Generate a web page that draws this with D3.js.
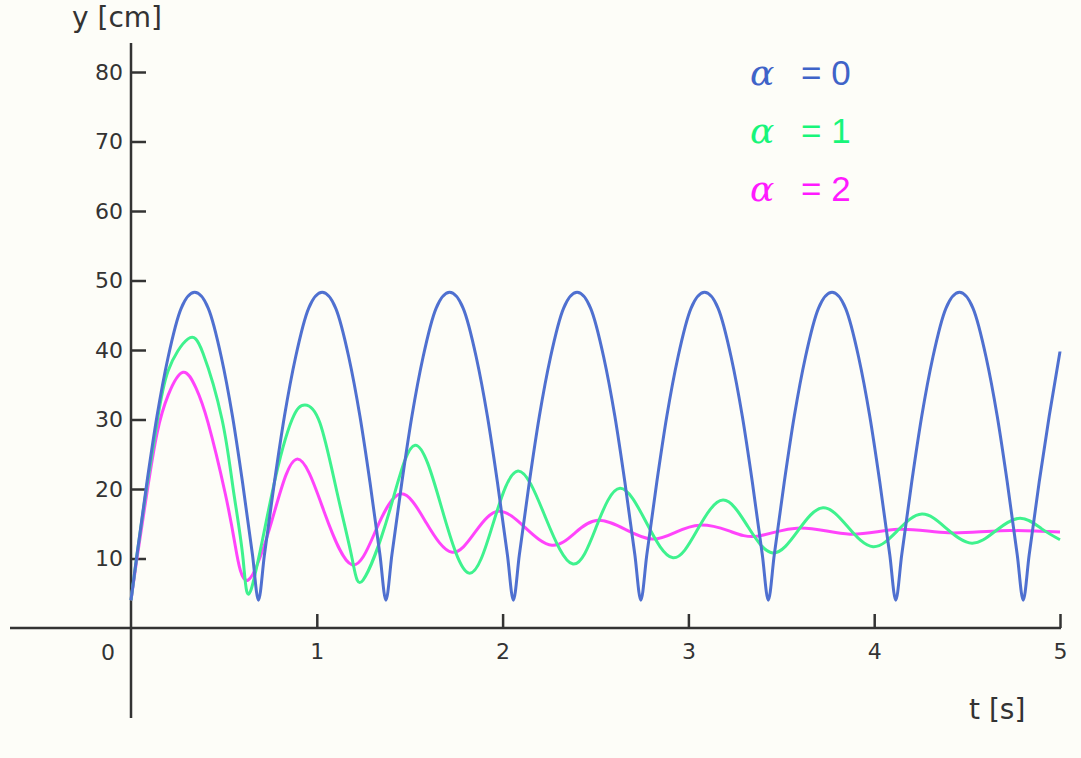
<!DOCTYPE html>
<html>
<head>
<meta charset="utf-8">
<script src="https://cdn.jsdelivr.net/npm/d3@7"></script>
<style>
  body { margin: 0; background: #fdfdf8; }
  svg { display: block; }
</style>
</head>
<body>
<script>
// values: [t in s, y in cm]
var alpha0 = [
  [0, 4], [0.032, 10.5], [0.086, 21], [0.14, 30.5], [0.2, 39], [0.27, 46], [0.343, 48.3],
  [0.416, 46], [0.486, 39], [0.546, 30.5], [0.6, 21], [0.654, 10.5],
  [0.686, 4], [0.718, 10.5], [0.772, 21], [0.826, 30.5], [0.886, 39], [0.956, 46], [1.029, 48.3],
  [1.102, 46], [1.172, 39], [1.232, 30.5], [1.286, 21], [1.34, 10.5],
  [1.372, 4], [1.404, 10.5], [1.458, 21], [1.512, 30.5], [1.572, 39], [1.642, 46], [1.715, 48.3],
  [1.788, 46], [1.858, 39], [1.918, 30.5], [1.972, 21], [2.026, 10.5],
  [2.058, 4], [2.09, 10.5], [2.144, 21], [2.198, 30.5], [2.258, 39], [2.328, 46], [2.401, 48.3],
  [2.474, 46], [2.544, 39], [2.604, 30.5], [2.658, 21], [2.712, 10.5],
  [2.744, 4], [2.776, 10.5], [2.83, 21], [2.884, 30.5], [2.944, 39], [3.014, 46], [3.087, 48.3],
  [3.16, 46], [3.23, 39], [3.29, 30.5], [3.344, 21], [3.398, 10.5],
  [3.43, 4], [3.462, 10.5], [3.516, 21], [3.57, 30.5], [3.63, 39], [3.7, 46], [3.773, 48.3],
  [3.846, 46], [3.916, 39], [3.976, 30.5], [4.03, 21], [4.084, 10.5],
  [4.116, 4], [4.148, 10.5], [4.202, 21], [4.256, 30.5], [4.316, 39], [4.386, 46], [4.459, 48.3],
  [4.532, 46], [4.602, 39], [4.662, 30.5], [4.716, 21], [4.77, 10.5],
  [4.802, 4], [4.834, 10.5], [4.888, 21], [4.942, 30.5], [5.0, 39.8]
];

var alpha1 = [
  [0, 4], [0.032, 10.5], [0.086, 20.5], [0.14, 29.5], [0.2, 37], [0.307, 41.6],
  [0.388, 39.5], [0.49, 30], [0.55, 20], [0.603, 10], [0.646, 5.5],
  [0.764, 20], [0.867, 30], [0.936, 32.1], [1.017, 29.5], [1.109, 19.5], [1.19, 10], [1.249, 6.9],
  [1.389, 16.6], [1.529, 26.3], [1.674, 17.1], [1.819, 7.9],
  [1.951, 15.2], [2.083, 22.6], [2.231, 15.9], [2.379, 9.2],
  [2.505, 14.6], [2.632, 20.1], [2.775, 15.1], [2.917, 10.1],
  [3.05, 14.2], [3.186, 18.4], [3.32, 14.6], [3.455, 10.8],
  [3.59, 14.0], [3.724, 17.3], [3.86, 14.5], [3.994, 11.7],
  [4.125, 14.0], [4.257, 16.4], [4.39, 14.3], [4.526, 12.2],
  [4.655, 14.0], [4.785, 15.8], [4.9, 14.3], [5.0, 12.7]
];

var alpha2 = [
  [0, 4], [0.032, 10], [0.086, 19.5], [0.14, 28], [0.2, 33.5], [0.28, 36.8],
  [0.35, 34.5], [0.415, 29.5], [0.506, 19.5], [0.56, 12], [0.63, 6.9],
  [0.76, 15.6], [0.893, 24.3], [1.04, 16.7], [1.19, 9.1],
  [1.32, 14.2], [1.453, 19.3], [1.59, 15.1], [1.728, 10.9],
  [1.855, 13.9], [1.98, 16.8], [2.123, 14.4], [2.266, 11.9],
  [2.39, 13.7], [2.513, 15.5], [2.66, 14.2], [2.804, 12.8],
  [2.933, 13.8], [3.062, 14.8], [3.215, 14.0], [3.369, 13.2],
  [3.6, 14.4], [3.87, 13.5], [4.13, 14.2], [4.4, 13.7], [4.68, 14.0], [5.0, 13.8]
];

var seriesNames = ["0", "1", "2"];
var seriesColors = ["#4f70d0", "#3ff28e", "#ff44fb"];
var legendColors = ["#3f63c8", "#18f57a", "#ff1aff"];
var xTicks = [1, 2, 3, 4, 5];
var yTicks = [10, 20, 30, 40, 50, 60, 70, 80];

var W = 1081, H = 758;
var svg = d3.select("body").append("svg").attr("width", W).attr("height", H);

var x = d3.scaleLinear().domain([0, 5]).range([131, 1060]);
var y = d3.scaleLinear().domain([0, 80]).range([628, 72]);

var axisColor = "#333";
var font = "'DejaVu Sans', Verdana, sans-serif";

// main axis lines
svg.append("line")
    .attr("x1", 10).attr("x2", x(5) + 1)
    .attr("y1", y(0)).attr("y2", y(0))
    .attr("stroke", axisColor).attr("stroke-width", 2.5);
svg.append("line")
    .attr("x1", x(0)).attr("x2", x(0))
    .attr("y1", 43).attr("y2", 718)
    .attr("stroke", axisColor).attr("stroke-width", 2.5);

// ticks pointing into the plot
var gx = svg.append("g")
    .attr("transform", "translate(0," + y(0) + ")")
    .call(d3.axisBottom(x).tickValues(xTicks).tickSize(-14).tickPadding(15).tickFormat(d3.format("d")));
var gy = svg.append("g")
    .attr("transform", "translate(" + x(0) + ",0)")
    .call(d3.axisLeft(y).tickValues(yTicks).tickSize(-15).tickPadding(8).tickFormat(d3.format("d")));

[gx, gy].forEach(function(g) {
  g.select(".domain").remove();
  g.selectAll(".tick line").attr("stroke", axisColor).attr("stroke-width", 2.5);
  g.selectAll(".tick text").attr("fill", axisColor).style("font-family", font).style("font-size", "22px");
});
gx.selectAll(".tick text").attr("dy", "0.72em");

svg.append("text")
    .attr("x", 108).attr("y", 660)
    .attr("text-anchor", "middle")
    .attr("fill", axisColor)
    .style("font-family", font).style("font-size", "22px")
    .text("0");

// axis titles
svg.append("text")
    .attr("x", 72).attr("y", 27)
    .attr("fill", axisColor)
    .style("font-family", font).style("font-size", "28px")
    .text("y [cm]");
svg.append("text")
    .attr("x", 969).attr("y", 719)
    .attr("fill", axisColor)
    .style("font-family", font).style("font-size", "28px")
    .text("t [s]");

// curves: the undamped one has sharp bounces, the damped ones are smooth
var line = function(curve) {
  return d3.line()
      .x(function(d) { return x(d[0]); })
      .y(function(d) { return y(d[1]); })
      .curve(curve);
};
var allSeries = [alpha0, alpha1, alpha2];
var curves = [d3.curveMonotoneX, d3.curveNatural, d3.curveNatural];
var order = [2, 1, 0];

svg.selectAll("path.curve")
    .data(order)
    .enter()
    .append("path")
    .attr("class", "curve")
    .attr("d", function(k) { return line(curves[k])(allSeries[k]); })
    .attr("fill", "none")
    .attr("stroke", function(k) { return seriesColors[k]; })
    .attr("stroke-width", 3)
    .attr("stroke-linejoin", "round");

// legend
var legend = svg.selectAll("g.legend")
    .data(seriesNames)
    .enter()
    .append("g")
    .attr("class", "legend")
    .attr("transform", function(d, i) { return "translate(750," + (85 + i * 58) + ")"; });

legend.append("text")
    .attr("x", 0)
    .attr("fill", function(d, i) { return legendColors[i]; })
    .style("font-family", "'DejaVu Serif', serif")
    .style("font-style", "italic")
    .style("font-size", "36px")
    .text("α");
legend.append("text")
    .attr("x", 51)
    .attr("fill", function(d, i) { return legendColors[i]; })
    .style("font-family", "'Liberation Sans', Arial, sans-serif")
    .style("font-size", "35px")
    .text(function(d) { return "= " + d; });
</script>
</body>
</html>
